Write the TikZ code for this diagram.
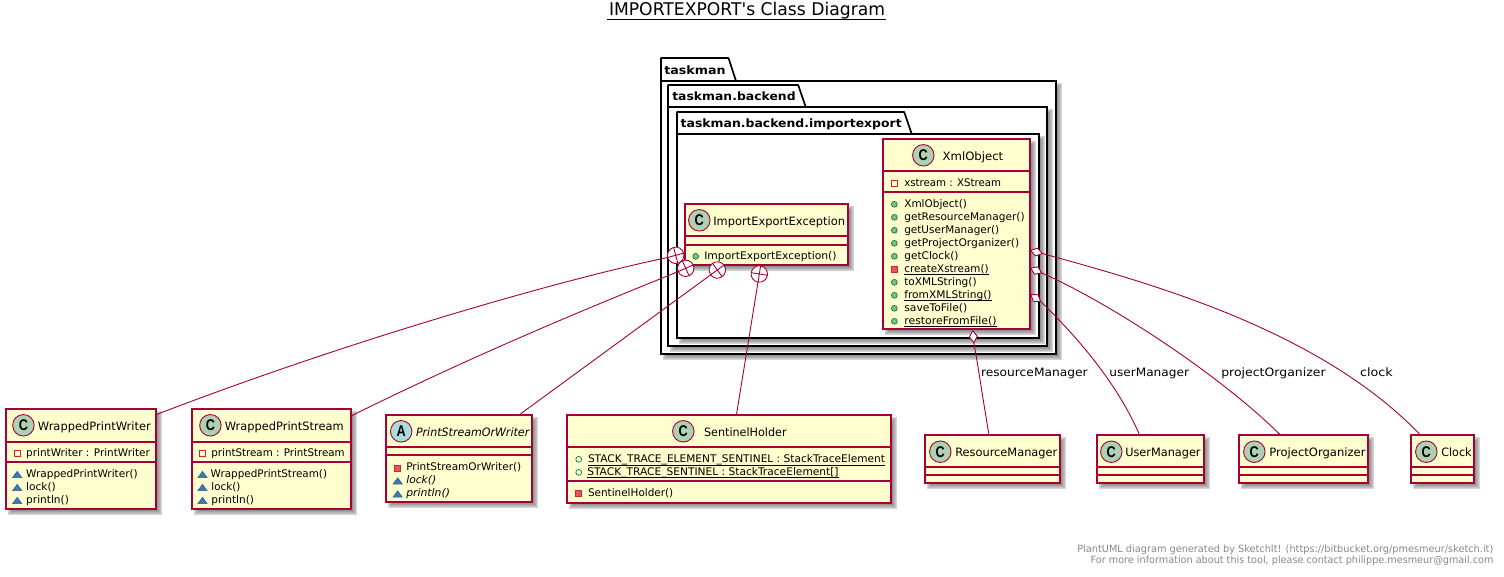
\documentclass[tikz,border=0pt]{standalone}
\usepackage{fontspec}
\usepackage{graphicx}
\usetikzlibrary{shapes.geometric,calc}
\setmainfont{DejaVu Sans}
\newfontfamily\titlefont{DejaVu Sans}
\newfontfamily\spotfont{Liberation Sans}
\definecolor{umlred}{HTML}{A80036}
\definecolor{umlfill}{HTML}{FEFECE}
\definecolor{spotc}{HTML}{ADD1B2}
\definecolor{spota}{HTML}{A9DCDF}
\definecolor{foot}{HTML}{888888}
\definecolor{gdark}{HTML}{038048}
\definecolor{glight}{HTML}{84BE84}
\definecolor{rdark}{HTML}{C82930}
\definecolor{rlight}{HTML}{F24D5C}
\definecolor{bdark}{HTML}{1963A0}
\definecolor{blight}{HTML}{4177AF}
\tikzset{
  txtn/.style={anchor=base west,inner sep=0pt,outer sep=0pt,text=black},
  membf/.style={font=\fontsize{10.5pt}{12pt}\selectfont},
  ttlf/.style={font=\fontsize{11.5pt}{13pt}\selectfont},
  pkgf/.style={font=\fontsize{11.5pt}{13pt}\selectfont\bfseries},
  linkf/.style={font=\fontsize{11.5pt}{13pt}\selectfont},
  footf/.style={font=\fontsize{10pt}{12pt}\selectfont,text=foot},
  classbox/.style={draw=umlred,fill=umlfill,line width=1.7pt,inner sep=0pt,outer sep=0pt,rectangle},
  pkgbox/.style={draw=black,fill=white,line width=1.7pt,inner sep=0pt,outer sep=0pt,rectangle},
  link/.style={draw=umlred,line width=.9pt},
  pluscirc/.style={circle,draw=umlred,fill=white,line width=.9pt,minimum size=16.4pt,inner sep=0pt,outer sep=0pt},
  aggr/.style={diamond,aspect=1.5,draw=umlred,fill=white,line width=.9pt,minimum width=12pt,minimum height=8pt,inner sep=0pt,outer sep=0pt},
  spotn/.style={circle,draw=umlred,line width=.9pt,minimum size=21.5pt,inner sep=0pt,text=black,font=\spotfont\bfseries\fontsize{15.5pt}{16pt}\selectfont}
}
\newcommand\fitT[2]{\resizebox{#1pt}{\height}{#2}}
% soft shadow
\newcommand\softshadow[4]{%
  \foreach \e in {2.4,1.6,.8,0,-.8,-1.6}{%
    \fill[black,opacity=.085] ({#1+4-\e},{#2+4-\e}) rectangle ({#3+4+\e},{#4+4+\e});}}
% class box {name}{x1}{y1}{x2}{y2}{sep1}{sep2}
\newcommand\classN[7]{%
  \softshadow{#2}{#3}{#4}{#5}%
  \pgfmathsetmacro\wdd{#4-#2}\pgfmathsetmacro\htt{#5-#3}%
  \node[classbox,minimum width=\wdd pt,minimum height=\htt pt] (#1) at ({(#2+#4)/2},{(#3+#5)/2}) {};
  \draw[umlred,line width=1.4pt] (#2,#6) -- (#4,#6);
  \draw[umlred,line width=1.4pt] (#2,#7) -- (#4,#7);}
% package {name}{x1}{tabtop}{tabright}{bodytop}{x2}{y2}
\newcommand\pkgN[7]{%
  \softshadow{#2}{#5}{#6}{#7}%
  \pgfmathsetmacro\wdd{#6-#2}\pgfmathsetmacro\htt{#7-#5}%
  \filldraw[draw=black,fill=white,line width=1.7pt,line join=round] (#2,#5) -- (#2,#3) -- ({#4-7.5},#3) -- (#4,#5) -- cycle;
  \node[pkgbox,minimum width=\wdd pt,minimum height=\htt pt] (#1) at ({(#2+#6)/2},{(#5+#7)/2}) {};}
\newcommand\tx[6]{\node[txtn,#5] (#1) at (#2,#3) {\fitT{#4}{#6}};}
\newcommand\ux[6]{\tx{#1}{#2}{#3}{#4}{#5}{#6}%
  \draw[black,line width=.9pt] ([yshift=-2.3pt]#1.base west) -- ([yshift=-2.3pt]#1.base east);}
\newcommand\spotN[5]{\node[spotn,fill=#5] (#1) at (#2,#3) {\scalebox{.82}[1]{#4}};}
\newcommand\pubM[2]{\filldraw[draw=gdark,fill=glight,line width=.7pt] (#1,#2) circle (2.9pt);}
\newcommand\pubF[2]{\draw[gdark,line width=.7pt] (#1,#2) circle (2.9pt);}
\newcommand\privF[2]{\draw[rdark,line width=.8pt] ({#1-3},{#2-3}) rectangle ({#1+3},{#2+3});}
\newcommand\privM[2]{\filldraw[draw=rdark,fill=rlight,line width=.8pt] ({#1-3},{#2-3}) rectangle ({#1+3},{#2+3});}
\newcommand\pkgM[2]{\filldraw[draw=bdark,fill=blight,line width=.5pt] ({#1-4.6},{#2+3}) -- (#1,{#2-3.2}) -- ({#1+4.6},{#2+3}) -- cycle;}
\newcommand\plusC[4]{\node[pluscirc,rotate=#4] (#1) at (#2,#3) {};
  \draw[umlred,line width=.9pt] (#1.north) -- (#1.south) (#1.east) -- (#1.west);}
\begin{document}
\begin{tikzpicture}[x=1pt,y=-1pt]
\useasboundingbox (0,0) rectangle (1504,576);
% title
\node[txtn,font=\titlefont\fontsize{17.5pt}{20pt}\selectfont] (title) at (609,15.5) {\fitT{276}{IMPORTEXPORT's Class Diagram}};
\draw[black,line width=1pt] ([xshift=-2pt,yshift=-3.8pt]title.base west) -- ([xshift=1pt,yshift=-3.8pt]title.base east);
% packages
\pkgN{ptm}{661}{58}{736}{81}{1056}{354}
\tx{ptml}{664.3}{74}{61.3}{pkgf}{taskman}
\pkgN{pbe}{668}{85}{805.7}{107}{1047}{346}
\tx{pbel}{672.3}{100.7}{123.3}{pkgf}{taskman.backend}
\pkgN{pie}{677}{112}{911.7}{134}{1039}{338}
\tx{piel}{680.7}{127.7}{221}{pkgf}{taskman.backend.importexport}
% XmlObject
\classN{xml}{883}{139}{1030}{329}{171}{192}
\spotN{xmls}{923.3}{155.3}{C}{spotc}
\tx{xmlt}{942.7}{160}{60.6}{ttlf}{XmlObject}
\privF{894.3}{183.3}\tx{xmla}{904.3}{186}{96.7}{membf}{xstream : XStream}
\pubM{894.3}{204.3}\tx{xmlm1}{904.3}{207}{62.7}{membf}{XmlObject()}
\pubM{894.3}{217.3}\tx{xmlm2}{904.3}{220}{120.3}{membf}{getResourceManager()}
\pubM{894.3}{230.3}\tx{xmlm3}{904.3}{233}{95}{membf}{getUserManager()}
\pubM{894.3}{243.3}\tx{xmlm4}{904.3}{246}{115}{membf}{getProjectOrganizer()}
\pubM{894.3}{256.3}\tx{xmlm5}{904.3}{259}{54.3}{membf}{getClock()}
\privM{894.3}{269.3}\ux{xmlm6}{904.3}{272}{84.3}{membf}{createXstream()}
\pubM{894.3}{282.3}\tx{xmlm7}{904.3}{285}{72.3}{membf}{toXMLString()}
\pubM{894.3}{295.3}\ux{xmlm8}{904.3}{298}{87.3}{membf}{fromXMLString()}
\pubM{894.3}{308.3}\tx{xmlm9}{904.3}{311}{63}{membf}{saveToFile()}
\pubM{894.3}{321.3}\ux{xmlm10}{904.3}{324}{92.3}{membf}{restoreFromFile()}
% ImportExportException
\classN{iee}{685}{204}{848}{265}{236}{245}
\spotN{iees}{699.3}{220.3}{C}{spotc}
\tx{ieet}{713.3}{225}{131.7}{ttlf}{ImportExportException}
\pubM{695.7}{256.3}\tx{ieem}{704.3}{259}{132.3}{membf}{ImportExportException()}
% WrappedPrintWriter
\classN{wpw}{6}{409}{156}{509}{442}{462}
\spotN{wpws}{23.4}{425.3}{C}{spotc}
\tx{wpwt}{37.9}{430.3}{113}{ttlf}{WrappedPrintWriter}
\privF{17.2}{453.6}\tx{wpwa}{26.2}{456.5}{123.6}{membf}{printWriter : PrintWriter}
\pkgM{17.2}{474.5}\tx{wpwm1}{26.2}{477.3}{111.6}{membf}{WrappedPrintWriter()}
\pkgM{17.2}{487.5}\tx{wpwm2}{26.2}{490.3}{29.6}{membf}{lock()}
\pkgM{17.2}{500.5}\tx{wpwm3}{26.2}{503.3}{42.7}{membf}{println()}
% WrappedPrintStream
\classN{wps}{192}{409}{351}{509}{442}{462}
\spotN{wpss}{210.4}{425.3}{C}{spotc}
\tx{wpst}{224.9}{430.3}{118.8}{ttlf}{WrappedPrintStream}
\privF{202.5}{453.6}\tx{wpsa}{211.4}{456.5}{133.3}{membf}{printStream : PrintStream}
\pkgM{202.5}{474.5}\tx{wpsm1}{210.7}{477.3}{116.4}{membf}{WrappedPrintStream()}
\pkgM{202.5}{487.5}\tx{wpsm2}{211.4}{490.3}{29}{membf}{lock()}
\pkgM{202.5}{500.5}\tx{wpsm3}{211.4}{503.3}{42.7}{membf}{println()}
% PrintStreamOrWriter
\classN{psw}{386}{415}{532}{502}{447}{455}
\spotN{psws}{401.2}{431.3}{A}{spota}
\tx{pswt}{416}{436}{113.3}{font=\fontsize{11.5pt}{13pt}\selectfont\itshape}{PrintStreamOrWriter}
\privM{397.7}{468}\tx{pswm1}{406.3}{470.7}{115}{membf}{PrintStreamOrWriter()}
\pkgM{397.7}{481}\tx{pswm2}{406.3}{483.7}{30}{font=\fontsize{10.5pt}{12pt}\selectfont\itshape}{lock()}
\pkgM{397.7}{494}\tx{pswm3}{406.3}{496.7}{43.7}{font=\fontsize{10.5pt}{12pt}\selectfont\itshape}{println()}
% SentinelHolder
\classN{sen}{567}{415}{891}{503}{447}{481}
\spotN{sens}{683.3}{431.3}{C}{spotc}
\tx{sent}{704}{436}{82.7}{ttlf}{SentinelHolder}
\pubF{578.7}{459.3}\ux{sena1}{588}{462.7}{297}{membf}{STACK\_TRACE\_ELEMENT\_SENTINEL : StackTraceElement}
\pubF{578.7}{472.3}\ux{sena2}{587.3}{475.3}{251.3}{membf}{STACK\_TRACE\_SENTINEL : StackTraceElement[]}
\privM{578.7}{493.3}\tx{senm}{588}{496}{85.3}{membf}{SentinelHolder()}
% empty classes
\classN{rm}{925}{435}{1060}{483}{467}{475}
\spotN{rms}{940.3}{451.7}{C}{spotc}
\tx{rmt}{955.3}{456}{102}{ttlf}{ResourceManager}
\classN{um}{1097}{435}{1204}{483}{467}{475}
\spotN{ums}{1111.3}{451.7}{C}{spotc}
\tx{umt}{1125.3}{456}{75.3}{ttlf}{UserManager}
\classN{po}{1239}{435}{1368}{483}{467}{475}
\spotN{pos}{1254.3}{451.7}{C}{spotc}
\tx{pot}{1269.3}{456}{96.3}{ttlf}{ProjectOrganizer}
\classN{clk}{1411}{435}{1474}{483}{467}{475}
\spotN{clks}{1426.3}{451.7}{C}{spotc}
\tx{clkt}{1441.3}{456}{30.3}{ttlf}{Clock}
% inner-class markers
\plusC{c1}{675.7}{255.3}{15}
\plusC{c2}{685.7}{268.3}{24}
\plusC{c3}{717.3}{270}{36}
\plusC{c4}{759.3}{274}{-9}
\draw[link] (c1.west) .. controls (560,280) and (350,340) .. ([yshift=-5.7pt]wpw.north east);
\draw[link] (c2.west) .. controls (570,315) and (460,362) .. ([yshift=-7pt]wps.north east);
\draw[link] (c3.west) -- ([xshift=-13pt]psw.north east);
\draw[link] (c4.south) -- ([xshift=169.4pt]sen.north west);
% aggregations
\node[aggr,rotate=-85] (d0) at (973.3,336.7) {};
\node[aggr,rotate=-15] (d1) at (1036.5,252) {};
\node[aggr,rotate=-24] (d2) at (1036.2,270.5) {};
\node[aggr,rotate=-35] (d3) at (1035.7,298) {};
\draw[link] (d0.east) .. controls (978,365) and (983,400) .. ([xshift=64pt]rm.north west);
\draw[link] (d3.east) .. controls (1070,330) and (1115,378) .. ([xshift=42.6pt]um.north west);
\draw[link] (d2.east) .. controls (1110,303) and (1220,375) .. ([xshift=41.4pt]po.north west);
\draw[link] (d1.east) .. controls (1150,283) and (1320,330) .. ([xshift=9.4pt]clk.north west);
% connector labels
\tx{lrm}{981}{376}{106.7}{linkf}{resourceManager}
\tx{lum}{1109.3}{376}{79.7}{linkf}{userManager}
\tx{lpo}{1221.3}{376}{104.3}{linkf}{projectOrganizer}
\tx{lcl}{1360}{376}{32.7}{linkf}{clock}
% footer
\tx{ft1}{1077.3}{552.7}{416}{footf}{PlantUML diagram generated by SketchIt! (https://bitbucket.org/pmesmeur/sketch.it)}
\tx{ft2}{1090.7}{563.7}{402.7}{footf}{For more information about this tool, please contact philippe.mesmeur@gmail.com}
\end{tikzpicture}
\end{document}
